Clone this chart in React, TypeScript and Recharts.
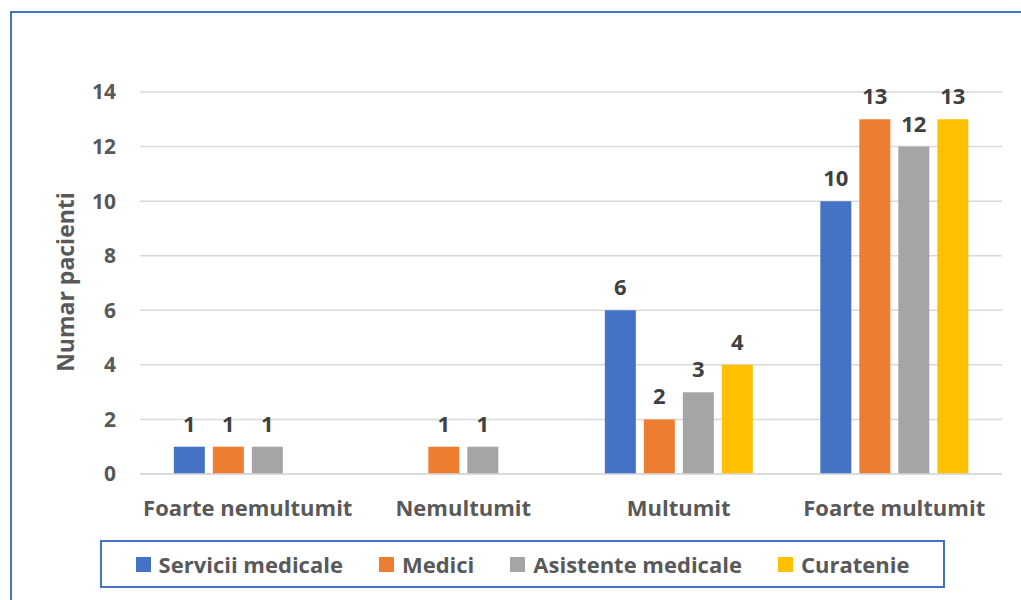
import React from 'react';
import { BarChart, Bar, XAxis, YAxis, CartesianGrid, LabelList } from 'recharts';

const categories = ['Foarte nemultumit', 'Nemultumit', 'Multumit', 'Foarte multumit'];
const serviciiMedicale = [1, null, 6, 10];
const medici = [1, 1, 2, 13];
const asistenteMedicale = [1, 1, 3, 12];
const curatenie = [null, null, 4, 13];
const yTicks = [0, 2, 4, 6, 8, 10, 12, 14];

const series = [
  { key: 'servicii', name: 'Servicii medicale', color: '#4472C4', values: serviciiMedicale },
  { key: 'medici', name: 'Medici', color: '#ED7D31', values: medici },
  { key: 'asistente', name: 'Asistente medicale', color: '#A5A5A5', values: asistenteMedicale },
  { key: 'curatenie', name: 'Curatenie', color: '#FFC000', values: curatenie },
];

const data = categories.map((cat, i) => {
  const row: any = { cat };
  series.forEach((s) => { row[s.key] = s.values[i]; });
  return row;
});

const FONT = '"Open Sans", "Segoe UI", sans-serif';

const YLabel = () => (
  <text
    x={65}
    y={282}
    transform="rotate(-90 65 282)"
    textAnchor="middle"
    dominantBaseline="central"
    fill="#595959"
    fontSize={23}
    fontWeight={700}
    fontFamily={FONT}
  >
    Numar pacienti
  </text>
);

export default function App() {
  return (
    <div style={{ position: 'absolute', left: 0, top: 0, width: 1021, height: 600, overflow: 'hidden', background: '#fff', fontFamily: FONT }}>
      <div style={{ position: 'absolute', left: 10, top: 11, width: 1030, height: 620, border: '2px solid #4472C4', boxSizing: 'border-box' }} />
      <div style={{ position: 'absolute', left: 0, top: 0 }}>
        <BarChart
          width={1021}
          height={600}
          data={data}
          margin={{ top: 92, right: 19, bottom: 86, left: 60 }}
          barCategoryGap="15.7%"
          barGap={8}
        >
          <CartesianGrid vertical={false} stroke="#D9D9D9" strokeWidth={1.5} />
          <XAxis
            dataKey="cat"
            height={40}
            axisLine={{ stroke: '#D9D9D9', strokeWidth: 1.5 }}
            tickLine={false}
            tickSize={0}
            tickMargin={26}
            tick={{ fill: '#595959', fontSize: 22, fontWeight: 700, fontFamily: FONT }}
            interval={0}
          />
          <YAxis
            width={80}
            domain={[0, 14]}
            ticks={yTicks}
            axisLine={false}
            tickLine={false}
            tickSize={0}
            tickMargin={24}
            tick={{ fill: '#595959', fontSize: 21, fontWeight: 700, fontFamily: FONT }}
            label={<YLabel />}
          />
          {series.map((s) => (
            <Bar key={s.key} dataKey={s.key} name={s.name} fill={s.color} isAnimationActive={false}>
              <LabelList
                dataKey={s.key}
                position="top"
                offset={15}
                fill="#404040"
                fontSize={22}
                fontWeight={700}
                fontFamily={FONT}
              />
            </Bar>
          ))}
        </BarChart>
      </div>
      <div
        style={{
          position: 'absolute',
          left: 100,
          top: 540,
          width: 845,
          height: 48,
          border: '2px solid #4472C4',
          boxSizing: 'border-box',
          display: 'flex',
          alignItems: 'center',
          justifyContent: 'center',
          gap: 36,
        }}
      >
        {series.map((s) => (
          <div key={s.key} style={{ display: 'flex', alignItems: 'center', gap: 8 }}>
            <div style={{ width: 15, height: 15, background: s.color }} />
            <span style={{ color: '#595959', fontSize: 22, fontWeight: 700, whiteSpace: 'nowrap' }}>{s.name}</span>
          </div>
        ))}
      </div>
    </div>
  );
}
